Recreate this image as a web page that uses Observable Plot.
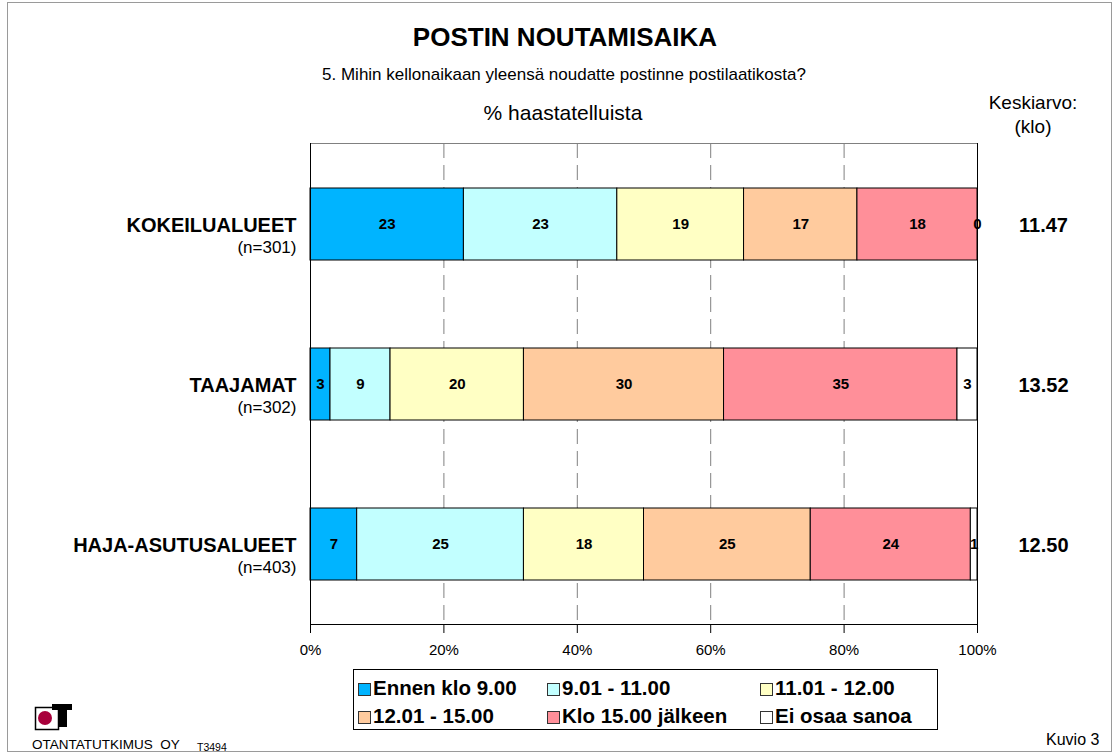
<!DOCTYPE html>
<html><head><meta charset="utf-8">
<script src="https://cdn.jsdelivr.net/npm/d3@7"></script>
<script src="https://cdn.jsdelivr.net/npm/@observablehq/plot@0.6"></script>
<style>
body{margin:0;background:#fff;font-family:"Liberation Sans",Arial,Helvetica,sans-serif;}
#page{position:relative;width:1118px;height:756px;overflow:hidden;background:#fff;}
.abs{position:absolute;white-space:nowrap;color:#000;}
#frame{position:absolute;left:7px;top:2px;width:1105px;height:750px;border:1px solid #9a9a9a;box-sizing:border-box;}
#chart{position:absolute;left:0;top:0;}
#legend{position:absolute;left:353px;top:669px;width:585px;height:61px;border:1px solid #000;box-sizing:border-box;}
.li{position:absolute;font-weight:bold;font-size:20.5px;line-height:22px;}
.sw{display:inline-block;width:13px;height:13px;border:1px solid #333;vertical-align:-1px;margin-right:2px;box-sizing:border-box;}
</style></head><body>
<div id="page">
  <div id="frame"></div>
  <div id="chart"></div>
  <div class="abs" style="left:0;width:1130px;top:21px;text-align:center;font-weight:bold;font-size:26px;line-height:32px;">POSTIN NOUTAMISAIKA</div>
  <div class="abs" style="left:0;width:1128px;top:65px;text-align:center;font-size:17px;line-height:20px;">5. Mihin kellonaikaan yleensä noudatte postinne postilaatikosta?</div>
  <div class="abs" style="left:0;width:1126px;top:100px;text-align:center;font-size:21px;line-height:26px;">% haastatelluista</div>
  <div class="abs" style="left:983px;width:100px;top:91px;text-align:center;font-size:19px;line-height:24px;">Keskiarvo:<br>(klo)</div>
  <div id="legend"></div>
  <svg class="abs" style="left:30px;top:700px;" width="50" height="32">
    <rect x="5.5" y="7.5" width="23" height="22" fill="#fff" stroke="#000" stroke-width="1.5"></rect>
    <circle cx="15" cy="18" r="7" fill="#a8003b"></circle>
    <rect x="22" y="4" width="20" height="6" fill="#000"></rect>
    <rect x="29" y="4" width="8" height="23" fill="#000"></rect>
  </svg>
  <div class="abs" style="left:32px;top:737px;font-size:13.5px;">OTANTATUTKIMUS&nbsp; OY</div>
  <div class="abs" style="left:197px;top:741px;font-size:10.5px;">T3494</div>
  <div class="abs" style="left:1046px;top:731px;font-size:16px;">Kuvio 3</div>
</div>
<script>
const categories = ["KOKEILUALUEET", "TAAJAMAT", "HAJA-ASUTUSALUEET"];
const sampleSizes = ["(n=301)", "(n=302)", "(n=403)"];
const means = ["11.47", "13.52", "12.50"];
const series = ["Ennen klo 9.00", "9.01 - 11.00", "11.01 - 12.00", "12.01 - 15.00", "Klo 15.00 jälkeen", "Ei osaa sanoa"];
const colors = ["#00b4ff", "#c2ffff", "#ffffc4", "#ffcb9e", "#ff8f99", "#ffffff"];
const valuesKokeilualueet = [23, 23, 19, 17, 18, 0];
const valuesTaajamat = [3, 9, 20, 30, 35, 3];
const valuesHajaAsutus = [7, 25, 18, 25, 24, 1];
const xTicks = [0, 20, 40, 60, 80, 100];
const gridTicks = [20, 40, 60, 80];

const allValues = [valuesKokeilualueet, valuesTaajamat, valuesHajaAsutus];
const rows = [];
categories.forEach((cat, i) => {
  series.forEach((s, j) => rows.push({cat, series: s, value: allValues[i][j]}));
});
const catRows = categories.map((cat, i) => ({cat, n: sampleSizes[i], mean: means[i]}));

const font = '"Liberation Sans", Arial, Helvetica, sans-serif';
const chart = Plot.plot({
  width: 1118, height: 756,
  marginLeft: 310, marginRight: 141, marginTop: 143, marginBottom: 132,
  style: {fontFamily: font, fontSize: "15px", background: "transparent", overflow: "visible"},
  x: {domain: [0, 100], ticks: xTicks, tickFormat: d => d + "%", label: null},
  y: {domain: categories, paddingInner: 0.55, paddingOuter: 0.275, axis: null},
  color: {domain: series, range: colors},
  marks: [
    Plot.ruleX(gridTicks, {stroke: "#808080", strokeDasharray: "15,7", strokeWidth: 1}),
    Plot.frame({anchor: "top", stroke: "#808080"}),
    Plot.frame({anchor: "right", stroke: "#000"}),
    Plot.barX(rows, {x: "value", y: "cat", fill: "series", stroke: "#000", strokeWidth: 1, inset: 0}),
    Plot.text(rows, Plot.stackX({x: "value", y: "cat", z: "series", text: d => String(d.value),
      fontWeight: "bold", fontSize: 15, fill: "#000"})),
    Plot.frame({anchor: "left", stroke: "#000"}),
    Plot.frame({anchor: "bottom", stroke: "#000"}),
    Plot.axisX({ticks: xTicks, tickFormat: d => d + "%", tickSize: 9, tickPadding: 11, fontSize: 15, stroke: "#000", label: null}),
    Plot.text(catRows, {y: "cat", text: "cat", frameAnchor: "left", textAnchor: "end", dx: -14, dy: 1,
      fontWeight: "bold", fontSize: 20, fill: "#000"}),
    Plot.text(catRows, {y: "cat", text: "n", frameAnchor: "left", textAnchor: "end", dx: -14, dy: 23,
      fontSize: 17, fill: "#000"}),
    Plot.text(catRows, {y: "cat", text: "mean", frameAnchor: "right", textAnchor: "middle", dx: 66, dy: 1,
      fontWeight: "bold", fontSize: 20, fill: "#000"})
  ]
});
document.getElementById("chart").appendChild(chart);

// legend built from series and colors
const legend = document.getElementById("legend");
const colX = [4, 193, 406];
const rowY = [7, 35];
series.forEach((s, i) => {
  const el = document.createElement("div");
  el.className = "li";
  el.style.left = colX[i % 3] + "px";
  el.style.top = rowY[Math.floor(i / 3)] + "px";
  const sw = document.createElement("span");
  sw.className = "sw";
  sw.style.background = colors[i];
  el.appendChild(sw);
  el.appendChild(document.createTextNode(s));
  legend.appendChild(el);
});
</script>
</body></html>
